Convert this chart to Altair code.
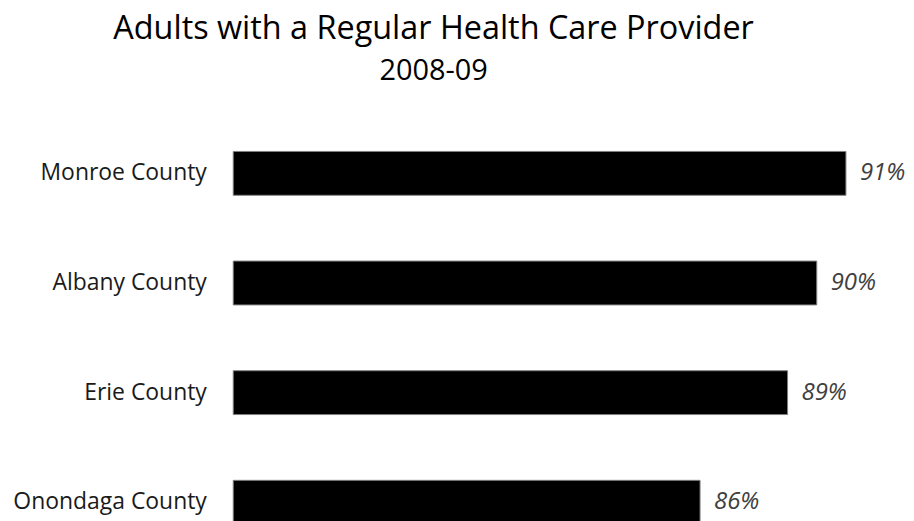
import altair as alt
import pandas as pd

counties = ["Monroe County", "Albany County", "Erie County", "Onondaga County"]
values = [91, 90, 89, 86]
labels = ["91%", "90%", "89%", "86%"]
axis_start = 70

df = pd.DataFrame({"county": counties, "value": values, "label": labels})

FONT = "Open Sans"

y_enc = alt.Y(
    "county:N",
    sort=counties,
    scale=alt.Scale(paddingInner=0.6, paddingOuter=0.3),
    axis=alt.Axis(
        title=None, ticks=False, domain=False, grid=False,
        labelFont=FONT, labelFontSize=23, labelColor="#1a1a1a",
        labelPadding=27, labelLimit=400,
    ),
)
x_enc = alt.X(
    "value:Q",
    scale=alt.Scale(domain=[axis_start, 92], zero=False, nice=False),
    axis=None,
)

bars = alt.Chart(df).mark_bar(
    color="black", stroke="#7f7f7f", strokeWidth=1
).encode(x=x_enc, x2=alt.datum(axis_start), y=y_enc)

text = alt.Chart(df).mark_text(
    align="left", baseline="middle", dx=14, font=FONT, fontSize=24,
    fontStyle="italic", color="#404040"
).encode(x=x_enc, y=y_enc, text="label:N")

chart = (bars + text).properties(
    width=644,
    height=alt.Step(110),
    title=alt.Title(
        "Adults with a Regular Health Care Provider",
        subtitle="2008-09",
        font=FONT, fontSize=32.5, fontWeight="normal", color="#000000",
        subtitleFont=FONT, subtitleFontSize=29, subtitleColor="#000000",
        subtitlePadding=11, anchor="middle", frame="group", dx=-121,
        offset=33,
    ),
    padding={"left": 4, "top": 4, "right": 0, "bottom": 0},
).configure_view(stroke=None)

chart.save("out.html", embed_options={"renderer": "svg", "actions": False})
